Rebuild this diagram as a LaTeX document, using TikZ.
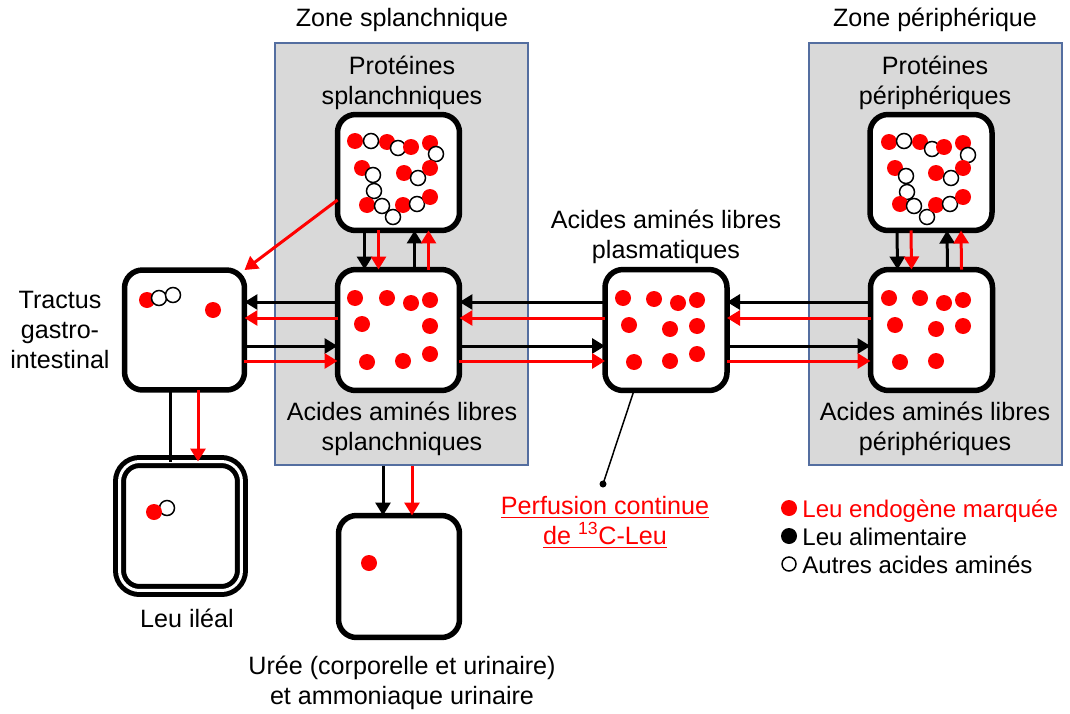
\documentclass[tikz,border=0pt]{standalone}
\usepackage{fontspec}
\setmainfont{Liberation Sans}
\usetikzlibrary{calc,arrows.meta}
\definecolor{zonegray}{RGB}{217,217,217}
\definecolor{zoneline}{RGB}{84,110,160}
\def\reddot(#1){\fill[red] (#1) circle (0.16cm);}
\def\whitedot(#1){\draw[line width=0.3mm, fill=white] (#1) circle (0.15cm);}

\begin{document}
\begin{tikzpicture}[x=0.02cm, y=-0.02cm,
	box/.style={draw, line width=1.1mm, fill=white, rounded corners=0.36cm, minimum width=2.44cm, minimum height=2.42cm, inner sep=0pt, outer sep=0pt},
	zone/.style={draw=zoneline, line width=0.3mm, fill=zonegray, minimum width=5.06cm, minimum height=8.44cm, inner sep=0pt},
	lbl/.style={align=center, inner sep=0pt, font=\fontsize{14.3}{17}\selectfont},
	leg/.style={lbl, anchor=base west, font=\fontsize{13.7}{17}\selectfont},
	blk/.style={line width=0.6mm, -{Triangle[length=0.26cm, width=0.3cm]}},
	rd/.style={blk, red}]
			%%%%% START %%%%%
			\useasboundingbox (0,0) rectangle (1070,713);
			
			\node[zone] (zoneS) at (401.5,254) {};
			\node[zone] (zoneP) at (935.5,254) {};
			\node[lbl] (zoneSlbl) at (402,20) {Zone splanchnique};
			\node[lbl] (zonePlbl) at (935,20) {Zone périphérique};
			
			\node[lbl] (protSlbl) at (402,83) {Protéines\\splanchniques};
			\node[lbl] (protPlbl) at (935,83) {Protéines\\périphériques};
			\node[lbl] (aaSlbl) at (402,429) {Acides aminés libres\\splanchniques};
			\node[lbl] (aaPlbl) at (935,429) {Acides aminés libres\\périphériques};
			\node[lbl] (plaslbl) at (666,237) {Acides aminés libres\\plasmatiques};
			\node[lbl] (tractlbl) at (60,330) {Tractus\\gastro-\\intestinal};
			\node[lbl] (ileallbl) at (187,618) {Leu iléal};
			\node[lbl] (urealbl) at (402,683) {Urée (corporelle et urinaire)\\et ammoniaque urinaire};
			\node[lbl, text=red] (perf) at (605,522) {\underline{Perfusion continue}\\\underline{de \textsuperscript{13}C-Leu}};
			
			\node[box, minimum height=2.32cm] (protS) at (398.5,172.5) {};
			\node[box, minimum height=2.32cm] (protP) at (931,172.5) {};
			\node[box] (aaS) at (398.5,330) {};
			\node[box] (plas) at (666,330) {};
			\node[box] (aaP) at (931.5,330) {};
			\node[box, minimum width=2.4cm, minimum height=2.4cm] (tract) at (184.5,330) {};
			\node[box, line width=1mm, double=white, double distance=0.6mm, minimum height=2.58cm, rounded corners=0.4cm] (ileal) at (180.5,526) {};
			\node[box, minimum width=2.42cm, minimum height=2.44cm] (urea) at (399,576.5) {};
			
			% proteines <-> acides amines libres
			\draw[blk] ($(protS.south)+(-34,0)$) -- ($(aaS.north)+(-34,0)$);
			\draw[rd] ($(protS.south)+(-20,0)$) -- ($(aaS.north)+(-20,0)$);
			\draw[blk] ($(aaS.north)+(16,0)$) -- ($(protS.south)+(16,0)$);
			\draw[rd] ($(aaS.north)+(30,0)$) -- ($(protS.south)+(30,0)$);
			\draw[blk] ($(protP.south)+(-34,0)$) -- ($(aaP.north)+(-34,0)$);
			\draw[rd] ($(protP.south)+(-20,0)$) -- ($(aaP.north)+(-20,0)$);
			\draw[blk] ($(aaP.north)+(16,0)$) -- ($(protP.south)+(16,0)$);
			\draw[rd] ($(aaP.north)+(30,0)$) -- ($(protP.south)+(30,0)$);
			
			% echanges horizontaux
			\draw[blk] ($(aaS.west)+(0,-28)$) -- ($(tract.east)+(0,-28)$);
			\draw[rd] ($(aaS.west)+(0,-12)$) -- ($(tract.east)+(0,-12)$);
			\draw[blk] ($(tract.east)+(0,16)$) -- ($(aaS.west)+(0,16)$);
			\draw[rd] ($(tract.east)+(0,31)$) -- ($(aaS.west)+(0,31)$);
			\draw[blk] ($(plas.west)+(0,-28)$) -- ($(aaS.east)+(0,-28)$);
			\draw[rd] ($(plas.west)+(0,-12)$) -- ($(aaS.east)+(0,-12)$);
			\draw[blk] ($(aaS.east)+(0,16)$) -- ($(plas.west)+(0,16)$);
			\draw[rd] ($(aaS.east)+(0,31)$) -- ($(plas.west)+(0,31)$);
			\draw[blk] ($(aaP.west)+(0,-28)$) -- ($(plas.east)+(0,-28)$);
			\draw[rd] ($(aaP.west)+(0,-12)$) -- ($(plas.east)+(0,-12)$);
			\draw[blk] ($(plas.east)+(0,16)$) -- ($(aaP.west)+(0,16)$);
			\draw[rd] ($(plas.east)+(0,31)$) -- ($(aaP.west)+(0,31)$);
			
			\draw[rd] ($(protS.west)+(0,27.5)$) -- (tract.north east);
			
			\draw[line width=0.6mm] ($(tract.south)+(-14.5,0)$) -- ($(ileal.north)+(-10.5,0)$);
			\draw[rd] ($(tract.south)+(13.5,0)$) -- ($(ileal.north)+(17.5,0)$);
			
			\coordinate (ureaB) at ($(urea.north)+(-16,0)$);
			\coordinate (ureaR) at ($(urea.north)+(13,0)$);
			\draw[blk] (ureaB |- zoneS.south) -- (ureaB);
			\draw[rd] (ureaR |- zoneS.south) -- (ureaR);
			
			\coordinate (perfPt) at (603,484);
			\draw[line width=0.3mm] ($(plas.south)+(-32,0)$) -- (perfPt);
			\fill (perfPt) circle (0.07cm);
			
			% proteines splanchniques
			\reddot(355,141) \whitedot(371,141) \reddot(387,142) \whitedot(398,148)
			\reddot(411,147) \reddot(430,143) \whitedot(436,154)
			\reddot(362,168) \whitedot(373,175) \whitedot(374,191)
			\reddot(367,205) \whitedot(382,206) \whitedot(393,217) \reddot(403,205)
			\whitedot(417,204) \reddot(430,197)
			\reddot(404,173) \whitedot(418,178) \reddot(430,168)
			
			% proteines peripheriques
			\reddot(889,142) \whitedot(904,141) \reddot(920,142) \whitedot(932,149)
			\reddot(944,147) \reddot(963,143) \whitedot(968,155)
			\reddot(895,168) \whitedot(906,176) \whitedot(907,192)
			\reddot(900,204) \whitedot(914,206) \whitedot(927,217) \reddot(936,205)
			\whitedot(950,204) \reddot(963,197)
			\reddot(936,173) \whitedot(951,178) \reddot(963,168)
			
			% acides amines libres
			\reddot(355,298) \reddot(387,298) \reddot(411,303) \reddot(430,300)
			\reddot(362,324) \reddot(430,326)
			\reddot(367,362) \reddot(403,361) \reddot(430,354)
			
			\reddot(623,298) \reddot(654,299) \reddot(678,303) \reddot(697,300)
			\reddot(629,325) \reddot(670,329) \reddot(697,326)
			\reddot(634,362) \reddot(670,361) \reddot(697,354)
			
			\reddot(889,298) \reddot(920,298) \reddot(944,303) \reddot(963,300)
			\reddot(895,325) \reddot(936,329) \reddot(963,326)
			\reddot(900,362) \reddot(936,361)
			
			% tractus, ileal, uree
			\reddot(147,300) \whitedot(159,298) \whitedot(173,295)
			\reddot(213,310)
			\whitedot(167,508) \reddot(154,512)
			\reddot(369,563)
			
			% legende
			\node[leg, text=red] (legRed) at (802,517) {Leu endogène marquée};
			\node[leg] (legBlk) at (802,545) {Leu alimentaire};
			\node[leg] (legWht) at (802,573) {Autres acides aminés};
			\fill[red] ($(legRed.base west)+(-13,-9)$) circle (0.16cm);
			\fill ($(legBlk.base west)+(-13,-9)$) circle (0.16cm);
			\draw[line width=0.3mm, fill=white] ($(legWht.base west)+(-13,-9)$) circle (0.14cm);
			%%%%% END %%%%%
\end{tikzpicture}
\end{document}
